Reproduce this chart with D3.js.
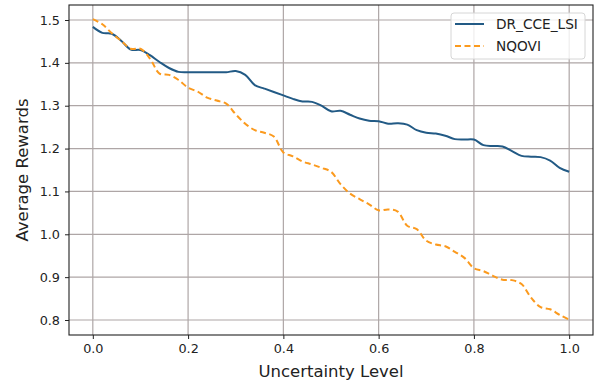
<!DOCTYPE html>
<html><head><meta charset="utf-8">
<script src="https://cdn.jsdelivr.net/npm/d3@7"></script>
<style>body{margin:0;background:#fff;}svg{display:block;}text{font-family:"DejaVu Sans",sans-serif;fill:#222;}</style>
</head><body>
<script>
const xs = d3.range(0, 51).map(i => +(i * 0.02).toFixed(2));
const drCceLsi = [1.484,1.470,1.468,1.451,1.431,1.430,1.418,1.402,1.388,1.379,
  1.378,1.378,1.378,1.378,1.378,1.381,1.372,1.348,1.340,1.332,
  1.324,1.316,1.310,1.309,1.300,1.287,1.288,1.279,1.270,1.265,
  1.264,1.258,1.259,1.256,1.243,1.237,1.235,1.230,1.222,1.221,
  1.221,1.208,1.206,1.205,1.194,1.183,1.181,1.180,1.172,1.155,1.146];
const nqovi = [1.502,1.490,1.469,1.451,1.433,1.433,1.410,1.375,1.372,1.360,
  1.342,1.333,1.319,1.312,1.305,1.280,1.258,1.243,1.237,1.228,
  1.191,1.182,1.170,1.163,1.155,1.146,1.117,1.095,1.082,1.070,
  1.056,1.058,1.053,1.020,1.012,0.985,0.976,0.972,0.959,0.945,
  0.921,0.914,0.903,0.894,0.893,0.884,0.852,0.830,0.825,0.812,0.801];
const xTicks = [0.0,0.2,0.4,0.6,0.8,1.0];
const yTicks = [0.8,0.9,1.0,1.1,1.2,1.3,1.4,1.5];
const seriesNames = ["DR_CCE_LSI","NQOVI"];

const W = 595, H = 381;
const L = 69, R = 593, T = 5, B = 335;
const svg = d3.select("body").append("svg").attr("width", W).attr("height", H);
const x = d3.scaleLinear().domain([-0.05, 1.05]).range([L, R]);
const y = d3.scaleLinear().domain([0.765, 1.535]).range([B, T]);

// grid
const g = svg.append("g");
g.selectAll(".gx").data(xTicks).enter().append("line")
  .attr("x1", d => x(d)).attr("x2", d => x(d)).attr("y1", T).attr("y2", B)
  .attr("stroke", "#aea6a6").attr("stroke-width", 1.2);
g.selectAll(".gy").data(yTicks).enter().append("line")
  .attr("x1", L).attr("x2", R).attr("y1", d => y(d)).attr("y2", d => y(d))
  .attr("stroke", "#aea6a6").attr("stroke-width", 1.2);

// axes
const xAxis = d3.axisBottom(x).tickValues(xTicks).tickFormat(d3.format(".1f")).tickSizeOuter(0).tickSize(4).tickPadding(5);
const yAxis = d3.axisLeft(y).tickValues(yTicks).tickFormat(d3.format(".1f")).tickSizeOuter(0).tickSize(4).tickPadding(5);
const ax = svg.append("g").attr("transform", `translate(0,${B})`).call(xAxis);
const ay = svg.append("g").attr("transform", `translate(${L},0)`).call(yAxis);
[ax, ay].forEach(a => {
  a.select(".domain").remove();
  a.selectAll("line").attr("stroke", "#222");
  a.selectAll("text").attr("font-size", 12.8).attr("fill", "#222").style("font-family", '"DejaVu Sans",sans-serif');
});

// lines
const line = d3.line().x((d, i) => x(xs[i])).y(d => y(d)).curve(d3.curveCatmullRom.alpha(0.5));
const colors = ["#225a85", "#fb9a1e"];
svg.append("path").datum(drCceLsi).attr("d", line).attr("fill", "none")
  .attr("stroke", colors[0]).attr("stroke-width", 2);
svg.append("path").datum(nqovi).attr("d", line).attr("fill", "none")
  .attr("stroke", colors[1]).attr("stroke-width", 2).attr("stroke-dasharray", "6,3.5");

// frame
svg.append("rect").attr("x", L).attr("y", T).attr("width", R - L).attr("height", B - T)
  .attr("fill", "none").attr("stroke", "#222").attr("stroke-width", 1.1);

// labels
svg.append("text").attr("x", (L + R) / 2).attr("y", 377).attr("text-anchor", "middle")
  .attr("font-size", 16.5).text("Uncertainty Level");
svg.append("text").attr("transform", `translate(28,${(T + B) / 2}) rotate(-90)`)
  .attr("text-anchor", "middle").attr("font-size", 16.5).text("Average Rewards");

// legend
const lg = svg.append("g");
lg.append("rect").attr("x", 451).attr("y", 13).attr("width", 134).attr("height", 46).attr("rx", 3)
  .attr("fill", "#fff").attr("fill-opacity", 0.8).attr("stroke", "#d6d6d6");
seriesNames.forEach((n, i) => {
  const yy = 24 + i * 22;
  lg.append("line").attr("x1", 455).attr("x2", 484).attr("y1", yy).attr("y2", yy)
    .attr("stroke", colors[i]).attr("stroke-width", 2)
    .attr("stroke-dasharray", i === 1 ? "6,3.5" : null);
  lg.append("text").attr("x", 496).attr("y", yy + 5).attr("font-size", 13.7).text(n);
});
</script>
</body></html>
